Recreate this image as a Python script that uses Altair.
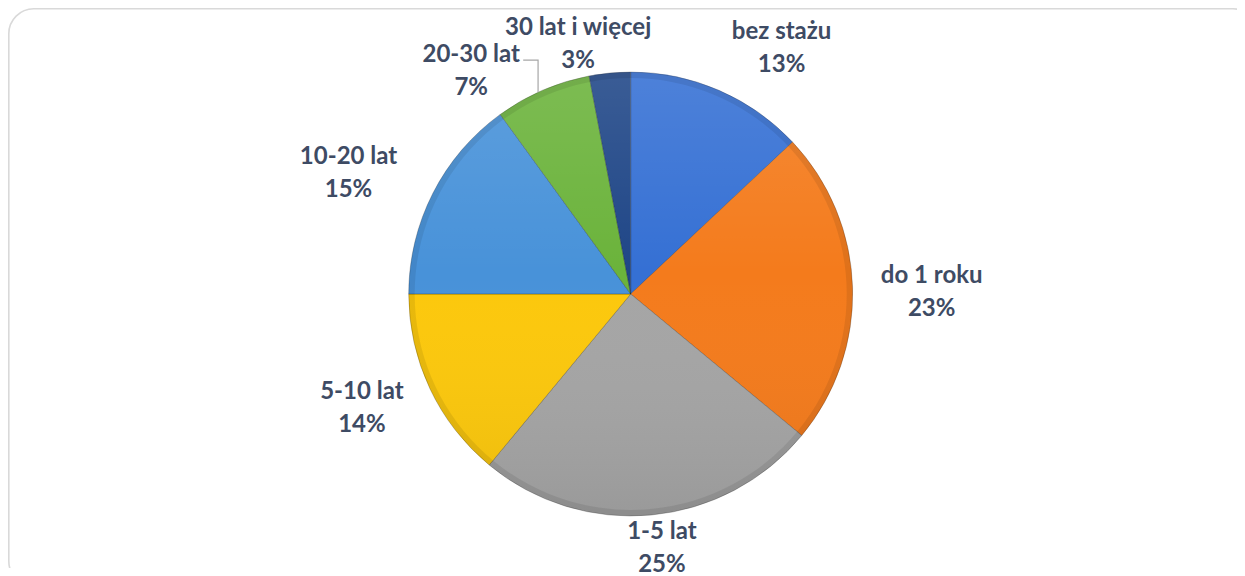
import math
import altair as alt
import pandas as pd

# --- data ---
categories = ["bez stażu", "do 1 roku", "1-5 lat", "5-10 lat", "10-20 lat", "20-30 lat", "30 lat i więcej"]
values = [13, 23, 25, 14, 15, 7, 3]

# --- styles ---
colors = ["#3570d4", "#f47b1c", "#a5a5a5", "#fcc80c", "#4892d9", "#6bb33b", "#1f4687"]
label_radius = [288, 301, 256, 292, 307, 274, 255]
label_shift_deg = [8.2, 1.6, -1.6, 2.2, -3.8, -12.2, -6.5]

CX, CY, R = 622.7, 286.0, 222
LINE_H = 33

total = sum(values)
cum = 0
lx, ly, labels = [], [], []
for i, (c, v) in enumerate(zip(categories, values)):
    mid = (cum + v / 2) / total * 360 + label_shift_deg[i]
    cum += v
    a = math.radians(mid)
    lx.append(CX + label_radius[i] * math.sin(a))
    ly.append(CY - label_radius[i] * math.cos(a))
    labels.append(f"{c}\n{v}%")

df = pd.DataFrame({
    "cat": categories,
    "value": values,
    "order": list(range(len(values))),
    "lx": lx,
    "ly": ly,
    "label": labels,
})

# leader line for the "20-30 lat" label
k = categories.index("20-30 lat")
start_cum = sum(values[:k])
a_end = math.radians((start_cum + values[k] * 0.45) / total * 360)
ex, ey = CX + R * math.sin(a_end), CY - R * math.cos(a_end)
lead = pd.DataFrame({
    "i": [0, 1, 2],
    "px": [lx[k] + 52, ex, ex],
    "py": [ly[k] - 11, ly[k] - 11, ey],
})

one = pd.DataFrame({"a": [0]})

# rounded frame (right / bottom edges run past the visible page, clipped)
frame = alt.Chart(one).mark_rect(
    cornerRadius=25, fill="white", stroke="#d9d9d9", strokeWidth=1.6, clip=True
).encode(
    x=alt.value(0.8), x2=alt.value(1250), y=alt.value(0.8), y2=alt.value(578)
)

pie = alt.Chart(df).mark_arc(
    outerRadius=R, stroke="#000000", strokeOpacity=0.22, strokeWidth=1
).encode(
    theta=alt.Theta("value:Q", stack=True),
    color=alt.Color("cat:N", scale=alt.Scale(domain=categories, range=colors), legend=None),
    order=alt.Order("order:Q"),
    x=alt.value(CX),
    y=alt.value(CY),
)

# soft light-from-above shading over the whole pie
shade = alt.Chart(one).mark_arc(
    theta=0, theta2=2 * math.pi, outerRadius=R,
    color=alt.LinearGradient(
        gradient="linear", x1=0, y1=0, x2=0, y2=1,
        stops=[
            alt.GradientStop(color="rgba(255,255,255,0.12)", offset=0),
            alt.GradientStop(color="rgba(255,255,255,0)", offset=0.45),
            alt.GradientStop(color="rgba(0,0,0,0.07)", offset=1),
        ],
    ),
).encode(x=alt.value(CX), y=alt.value(CY))

# darker bevel at the rim
rim = alt.Chart(one).mark_arc(
    theta=0, theta2=2 * math.pi, outerRadius=R, innerRadius=R - 6,
    color="#000000", opacity=0.08,
).encode(x=alt.value(CX), y=alt.value(CY))

text = alt.Chart(df).mark_text(
    font="Lato", fontWeight="bold", fontSize=24, lineBreak="\n", lineHeight=LINE_H,
    color="#3e4b64", align="center", baseline="middle", dy=-LINE_H / 2
).encode(
    x=alt.X("lx:Q", scale=None),
    y=alt.Y("ly:Q", scale=None),
    text="label:N",
)

leader = alt.Chart(lead).mark_line(color="#a6a6a6", strokeWidth=1.2).encode(
    x=alt.X("px:Q", scale=None),
    y=alt.Y("py:Q", scale=None),
    order=alt.Order("i:Q"),
)

chart = alt.layer(frame, pie, shade, rim, leader, text).properties(
    width=1229, height=560, padding=0, background="white"
).configure_view(
    stroke=None
)

chart.save("out.html", embed_options={"renderer": "svg", "actions": False})
